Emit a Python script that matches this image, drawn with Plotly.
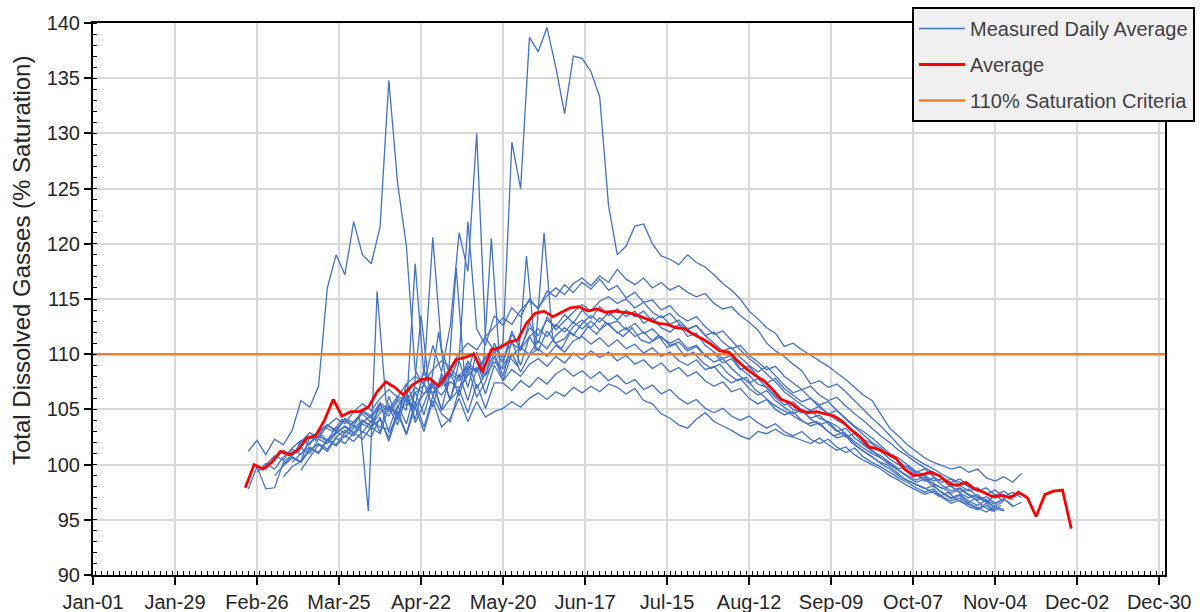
import plotly.graph_objects as go
from datetime import date, timedelta

BASE = date(2020, 1, 1)
STEP_DAYS = 3

# ---- measured daily average series (start = day offset from Jan-01, values every 3 days)
series_a_start = 53
series_a = [101.2,102.2,100.9,102.3,101.8,103.1,105.8,105.2,107.1,116.0,119.0,117.2,122.0,119.0,118.2,121.5,134.8,125.5,119.8,108.5,107.2,110.8,108.4,112.6,121.0,117.5,130.0,111.5,110.3,109.2,111.8,110.6,112.4,111.7,113.1,112.5,113.6,112.8,114.0,113.2,114.3,113.5,114.1,113.4,113.9,112.8,113.3,112.4,112.0,112.7,111.6,111.9,110.8,110.2,109.6,109.9,108.7,108.1,107.3,107.0,106.2,105.8,105.0,104.7,104.9,104.2,103.9,103.5,102.8,102.1,101.5,101.0,100.6,100.1,99.5,99.0,98.6,98.9,98.2,97.9,97.4,97.8,97.2,96.8,97.1,96.5,96.9,96.3]

series_b_start = 59
series_b = [100.0,100.8,100.4,101.5,102.2,101.8,103.0,103.6,103.1,104.2,103.8,104.9,104.4,105.6,105.0,106.2,105.7,107.0,106.4,107.5,107.1,108.3,107.6,108.9,108.4,109.6,110.2,111.0,129.2,125.0,138.7,137.4,139.6,136.0,131.8,137.0,136.8,135.6,133.3,123.5,119.0,119.8,121.6,121.8,120.0,118.9,118.6,118.1,119.0,118.3,117.9,117.2,116.4,115.8,115.0,113.9,113.2,112.4,111.9,110.7,111.0,110.4,109.9,109.4,108.9,108.3,107.7,107.0,106.3,105.8,104.6,103.3,102.6,101.8,101.2,100.6,100.2,99.9,99.6,99.8,99.3,99.6,98.8,98.5,98.9,98.4,99.2]

series_c_start = 70
series_c = [101.8,102.6,102.2,103.4,103.0,104.1,103.6,104.3,95.8,115.7,105.8,104.6,106.2,105.0,113.5,106.5,112.0,106.8,117.8,107.5,110.2,107.8,120.5,108.6,109.8,108.9,118.9,110.4,121.0,111.2,110.5,112.0,111.4,112.5,111.8,112.9,112.2,111.6,112.4,111.3,111.0,111.7,110.6,110.9,109.8,110.2,109.3,108.7,109.1,108.2,107.6,107.9,106.8,106.2,105.5,105.0,104.6,104.1,103.7,103.9,103.2,102.6,102.9,102.0,101.4,100.9,100.3,100.0,99.4,98.7,98.3,98.0,97.6,97.1,97.5,96.8,96.4,96.9,96.2,95.8,96.3]

series_d_start = 59
series_d = [99.6,100.5,101.3,100.8,102.0,102.9,102.4,103.5,104.2,103.7,104.8,105.5,104.9,106.0,106.8,106.1,107.3,108.0,107.4,108.6,109.4,108.8,110.1,111.0,110.4,111.6,112.5,113.3,112.7,114.0,114.8,114.2,115.3,116.0,115.4,116.4,116.9,116.2,117.1,116.5,117.7,116.8,116.3,116.9,116.0,116.5,115.8,116.2,115.6,115.2,115.5,114.6,114.1,114.3,113.5,112.9,112.2,111.0,110.3,109.8,109.1,108.5,107.3,107.6,107.0,107.3,106.6,105.8,105.0,104.2,103.5,102.6,101.8,101.0,100.5,100.0,99.6,99.1,98.7,98.4,98.0,97.8,97.4,97.0,97.3,96.8]

series_e_start = 65
series_e = [98.9,99.8,100.3,102.5,102.9,102.2,103.4,102.8,103.9,104.6,103.8,105.1,104.4,105.8,104.9,118.2,108.0,120.6,110.5,107.9,109.6,122.0,112.3,110.8,113.5,112.6,114.2,113.4,115.0,114.1,115.7,115.2,116.3,115.6,116.5,115.9,116.8,115.8,116.2,115.1,115.6,114.7,114.9,114.0,114.4,113.5,113.0,113.4,112.5,111.8,112.1,111.2,110.4,109.6,109.0,108.2,107.5,106.6,106.0,105.4,104.9,105.3,104.6,104.0,103.6,103.0,102.3,101.9,101.2,100.5,100.0,99.5,99.1,98.5,98.8,98.1,97.6,97.9,97.3,97.0,96.6,97.2,96.7]

series_f_start = 53
series_f = [97.8,99.8,97.8,97.9,100.2,100.9,101.5,101.0,102.3,101.9,102.8,103.5,102.9,103.8,104.5,102.9,106.2,104.0,107.3,105.4,108.6,106.2,107.9,105.8,109.4,107.0,110.2,108.1,111.0,109.4,112.1,110.3,112.9,111.0,113.4,112.2,113.0,113.8,114.5,113.9,114.8,115.2,114.6,115.0,114.2,114.7,113.8,113.3,113.7,112.8,112.2,112.6,111.7,111.0,110.3,110.6,109.7,109.0,108.4,108.9,108.0,107.2,106.5,106.8,106.0,105.4,105.7,104.9,104.2,103.5,103.0,102.4,101.7,101.0,100.6,100.0,99.4,99.0,98.5,98.7,98.0,97.5,97.8,97.1,96.8,96.4,96.9,96.2,96.6]

series_g_start = 56
series_g = [99.3,100.1,99.6,100.7,101.4,100.9,102.0,102.6,102.1,103.0,102.5,103.3,104.0,103.4,102.8,105.2,103.6,106.3,104.1,107.4,105.2,108.3,105.9,106.8,109.4,106.9,108.2,110.1,108.0,111.2,109.0,111.6,110.3,112.1,111.0,111.4,112.5,113.1,112.4,113.3,112.7,113.0,112.2,112.8,111.9,112.3,111.5,111.0,111.4,110.5,110.8,109.9,109.3,109.6,108.7,108.0,107.4,107.8,106.9,106.1,105.4,105.7,104.9,104.2,104.5,103.7,103.0,103.3,102.4,101.8,101.2,100.8,100.2,99.6,99.9,99.2,98.7,98.3,97.8,98.1,97.4,97.0,97.3,96.6,96.2,96.7]

series_h_start = 62
series_h = [99.0,99.9,100.6,100.2,101.3,101.9,101.4,102.5,103.1,102.6,103.7,103.2,105.6,102.9,104.4,106.8,103.8,105.5,107.6,105.0,108.3,106.2,108.8,106.1,107.5,109.8,107.6,110.1,108.4,109.9,110.5,109.8,110.8,110.2,111.2,111.6,110.9,111.5,110.7,111.3,110.5,110.9,110.1,110.6,109.8,110.2,109.4,109.0,109.5,108.6,108.9,108.0,107.4,107.8,106.9,106.3,106.7,105.8,105.2,104.6,105.0,104.1,103.6,103.9,103.1,102.5,102.8,101.9,101.3,100.6,100.0,99.5,98.9,98.4,98.7,98.0,97.5,97.0,97.3,96.7,96.3,96.8,96.0,95.8]

series_i_start = 68
series_i = [100.2,101.0,101.6,101.1,102.3,101.8,102.9,103.5,102.9,104.0,103.4,103.2,105.4,103.7,106.6,104.5,107.4,104.9,106.0,108.2,105.8,108.8,106.4,109.0,107.6,108.6,108.0,109.1,109.6,108.9,109.8,109.2,110.1,109.5,110.3,109.7,110.2,109.4,109.9,109.1,109.5,108.7,109.2,108.4,108.8,108.0,108.4,107.6,107.1,107.5,106.6,106.9,106.0,105.5,105.9,105.0,104.5,104.8,104.0,103.5,103.8,103.0,102.4,102.7,101.9,101.2,100.7,100.1,99.6,99.0,98.6,98.2,97.8,98.1,97.4,96.9,97.2,96.5,96.1,95.7,96.2,95.9]

series_j_start = 71
series_j = [99.5,100.6,101.8,101.2,102.4,101.9,102.9,102.3,103.4,104.1,102.4,104.9,102.8,105.7,103.4,106.2,104.6,103.9,106.8,104.7,107.3,105.1,107.4,107.4,106.7,107.6,107.0,107.9,107.3,108.2,108.7,108.0,108.5,107.8,108.4,107.6,108.1,107.3,107.7,106.8,107.2,106.4,106.8,106.0,105.5,105.9,105.1,104.7,105.1,104.4,104.0,104.4,103.8,103.3,103.7,103.0,102.6,103.0,102.3,101.9,102.3,101.6,101.1,101.5,100.7,100.2,99.8,99.3,98.8,98.4,97.9,97.5,97.8,97.1,96.7,97.0,96.4,96.0,96.5,95.8]

series_k_start = 65
series_k = [100.0,100.7,100.3,101.5,101.0,102.2,101.7,102.6,102.1,103.0,102.5,104.3,102.1,104.6,102.7,105.2,103.0,105.8,103.4,104.2,106.0,103.9,105.7,104.3,104.8,105.1,105.7,105.2,106.0,106.5,105.9,106.6,106.2,107.0,106.5,107.1,106.6,107.3,107.0,106.4,106.9,105.8,105.5,104.6,104.2,103.6,103.3,104.1,104.7,103.9,103.5,103.1,102.6,102.3,103.0,102.8,103.2,102.7,102.5,102.2,101.9,102.4,101.8,101.3,101.6,100.9,100.4,100.0,99.6,99.0,98.6,98.1,97.7,97.3,97.6,97.0,96.5,96.8,96.2,95.9,96.3,95.7]

series_l_start = 74
series_l = [102.5,102.9,103.6,103.0,104.1,103.5,104.8,104.2,105.4,104.8,106.0,105.3,106.5,107.2,106.5,107.8,108.6,107.9,109.2,108.5,109.8,110.5,109.8,111.0,110.4,111.6,112.3,111.6,112.7,112.0,112.9,112.3,113.0,112.2,112.8,111.9,112.4,111.6,112.0,111.2,111.6,110.8,111.1,110.3,110.7,109.8,110.1,109.2,109.6,108.6,108.9,108.0,107.4,107.8,106.9,106.3,105.7,106.0,105.2,104.6,104.9,104.1,103.4,102.7,102.0,101.5,100.8,100.3,99.7,99.3,99.6,98.9,98.4,98.7,98.1,97.6,97.9,97.3,97.7,97.1,97.5,97.0]

series_m_start = 80
series_m = [102.2,102.9,103.4,102.8,104.0,103.5,104.7,105.3,104.6,105.9,105.2,106.4,107.0,106.3,107.5,106.9,108.1,108.8,108.1,109.3,108.7,109.9,110.6,110.0,111.2,110.5,111.7,112.4,111.7,112.8,113.5,112.9,113.8,113.1,114.0,113.4,113.9,113.0,113.5,112.7,113.1,112.3,112.6,111.7,112.0,111.1,110.5,110.8,109.9,109.3,108.6,108.9,108.0,107.4,106.8,107.1,106.3,105.8,106.1,105.3,104.6,104.0,103.3,102.6,102.0,101.3,100.8,100.2,99.7,99.3,98.8,98.4,98.7,98.0,97.6,97.9,97.2,97.6,97.0,97.4]

# ---- average of all years (every 3 days)
average_start = 52
average_values = [97.9,100.0,99.6,100.2,101.2,100.9,101.3,102.4,102.6,104.0,105.9,104.4,104.8,104.8,105.2,106.6,107.5,107.0,106.3,107.2,107.7,107.8,107.1,108.2,109.5,109.7,110.0,108.4,110.4,110.6,111.1,111.3,112.8,113.7,113.9,113.4,113.8,114.2,114.3,113.9,114.1,113.8,113.9,113.8,113.7,113.4,113.1,112.8,112.7,112.4,112.3,111.8,111.4,110.9,110.3,110.2,109.4,108.7,108.1,107.6,106.8,105.9,105.6,105.0,104.7,104.8,104.6,104.4,103.9,103.1,102.5,101.6,101.4,101.0,100.6,99.6,99.0,99.1,99.3,99.0,98.3,98.1,98.4,97.8,97.5,97.1,97.2,97.0,97.5,97.0,95.3,97.3,97.6,97.7,94.2]

# ---- criteria
criteria_value = 110
criteria_span = ["2020-01-01", "2021-01-01"]

y_title = "Total Dissolved Gasses (% Saturation)"

measured = [
    (series_a_start, series_a), (series_b_start, series_b), (series_c_start, series_c),
    (series_d_start, series_d), (series_e_start, series_e), (series_f_start, series_f),
    (series_g_start, series_g), (series_h_start, series_h), (series_i_start, series_i),
    (series_j_start, series_j), (series_k_start, series_k), (series_l_start, series_l),
    (series_m_start, series_m),
]


def to_dates(start, n):
    return [BASE + timedelta(days=start + STEP_DAYS * i) for i in range(n)]


fig = go.Figure()

for i, (start, vals) in enumerate(measured):
    fig.add_trace(go.Scatter(
        x=to_dates(start, len(vals)), y=vals, mode="lines",
        line=dict(color="#4472C4", width=1.3),
        name="Measured Daily Average", legendgroup="measured",
        showlegend=(i == 0), legendrank=1, hoverinfo="skip"))

fig.add_trace(go.Scatter(
    x=criteria_span, y=[criteria_value, criteria_value], mode="lines",
    line=dict(color="#ED7D31", width=2.6),
    name="110% Saturation Criteria", legendgroup="crit", legendrank=3))

fig.add_trace(go.Scatter(
    x=to_dates(average_start, len(average_values)), y=average_values, mode="lines",
    line=dict(color="#FF0000", width=2.8),
    name="Average", legendgroup="avg", legendrank=2))

grid = "#D9D9D9"
fig.update_layout(
    width=1203, height=612,
    margin=dict(l=93, r=38, t=23, b=37, autoexpand=False),
    paper_bgcolor="white", plot_bgcolor="white",
    font=dict(family="Liberation Sans, Arial, sans-serif", size=20, color="#262626"),
    legend=dict(x=0.764, y=1.029, xanchor="left", yanchor="top",
                bgcolor="#F0F0F0", bordercolor="#000000", borderwidth=2,
                font=dict(size=20, color="#404040"), tracegroupgap=7, itemwidth=46),
    xaxis=dict(
        type="date", range=["2020-01-01", "2021-01-01"],
        tick0="2020-01-01", dtick=28 * 86400000, tickformat="%b-%d",
        showgrid=True, gridcolor=grid, gridwidth=1.5,
        showline=True, linecolor="black", linewidth=2, mirror=True,
        ticks="outside", ticklen=8, tickwidth=1.5, tickcolor="black",
        minor=dict(dtick=2 * 86400000, ticks="inside", ticklen=4, tickwidth=1,
                   tickcolor="black", showgrid=False),
        automargin=False, zeroline=False),
    yaxis=dict(
        range=[90, 140], tick0=90, dtick=5,
        showgrid=True, gridcolor=grid, gridwidth=1.5,
        showline=True, linecolor="black", linewidth=2, mirror=True,
        ticks="outside", ticklen=7, tickwidth=1.5, tickcolor="black",
        minor=dict(dtick=1, ticks="inside", ticklen=4, tickwidth=1,
                   tickcolor="black", showgrid=False),
        automargin=False, zeroline=False),
    annotations=[dict(
        text=y_title, textangle=-90, xref="paper", yref="paper",
        x=-0.066, y=0.571, xanchor="center", yanchor="middle", showarrow=False,
        font=dict(size=24, color="#262626"))],
)

fig.write_html("out.html", config={"displayModeBar": False},
               post_script="document.body.style.margin='0px';")
